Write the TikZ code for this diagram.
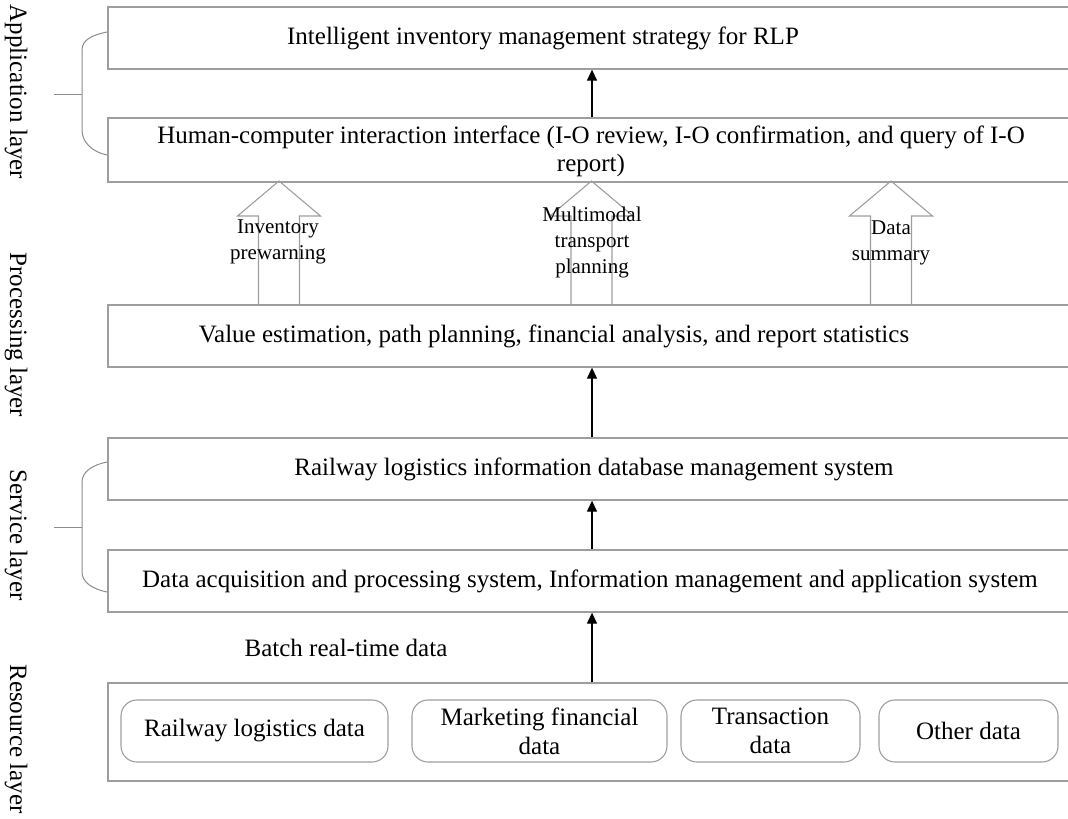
\documentclass[tikz,border=0pt]{standalone}
\usepackage{fontspec}
\setmainfont{Liberation Serif}
\usetikzlibrary{arrows.meta}

\tikzset{
  layerbox/.style={draw=black!38, line width=1.3pt, minimum width=968pt, inner sep=0pt},
  databox/.style={draw=black!38, line width=1.1pt, rounded corners=16pt, minimum height=62pt,
    inner sep=0pt, align=center, font=\fontsize{25}{29}\selectfont},
  boxtext/.style={align=center, inner sep=0pt, font=\fontsize{25}{28}\selectfont},
  sidetext/.style={rotate=-90, inner sep=0pt, font=\fontsize{25}{28}\selectfont},
  flowtext/.style={align=center, inner sep=0pt, font=\fontsize{21}{26}\selectfont},
  flow/.style={draw=black, line width=1.3pt, -{Triangle[length=11pt,width=10pt]}},
  hollow/.style={draw=black!38, line width=1.1pt, line join=miter},
  brace/.style={draw=black!45, line width=1pt}
}

\begin{document}
\begin{tikzpicture}[x=1pt, y=-1pt]
\clip (0,0) rectangle (1068,819);

% layer boxes (open to the right)
\node[layerbox, minimum height=62pt] (strategy) at (592,38) {};
\node[layerbox, minimum height=64pt] (hci) at (592,150) {};
\node[layerbox, minimum height=62pt] (proc) at (592,336) {};
\node[layerbox, minimum height=62pt] (db) at (592,469) {};
\node[layerbox, minimum height=62pt] (acq) at (592,581) {};
\node[layerbox, minimum height=98pt] (res) at (592,732) {};

% box texts
\node[boxtext] (strategy-t) at (543,38) {Intelligent inventory management strategy for RLP};
\node[boxtext] (hci-t) at (591,151) {Human-computer interaction interface (I-O review, I-O confirmation, and query of I-O\\report)};
\node[boxtext] (proc-t) at (554,336) {Value estimation, path planning, financial analysis, and report statistics};
\node[boxtext] (db-t) at (594,469) {Railway logistics information database management system};
\node[boxtext] (acq-t) at (590,581) {Data acquisition and processing system, Information management and application system};

% resource data boxes
\node[databox, minimum width=267pt] (rld) at (254.5,731) {Railway logistics data};
\node[databox, minimum width=255pt] (mfd) at (539.5,731) {Marketing financial\\data};
\node[databox, minimum width=179pt] (trd) at (770.5,731) {Transaction\\data};
\node[databox, minimum width=179pt] (oth) at (968.5,731) {Other data};

\node[boxtext] (batch) at (346,648) {Batch real-time data};

% solid flow arrows
\draw[flow] (hci.north) -- (strategy.south);
\draw[flow] (db.north) -- (proc.south);
\draw[flow] (acq.north) -- (db.south);
\draw[flow] (res.north) -- (acq.south);

% hollow block arrows from the processing box to the interface
\foreach \c in {279,591.5,891}{
  \draw[hollow] (\c-20.5,305) -- (\c-20.5,216) -- (\c-41.5,216) -- (\c,181)
    -- (\c+41.5,216) -- (\c+20.5,216) -- (\c+20.5,305);
}
\node[flowtext] (inv) at (278,242) {Inventory\\prewarning};
\node[flowtext] (mmt) at (592,242) {Multimodal\\transport\\planning};
\node[flowtext] (dsum) at (891,243) {Data\\summary};

% braces grouping the layers
\coordinate (appT) at (107,32);
\coordinate (appB) at (107,155);
\draw[brace] (appT) .. controls (92,35) and (82,40) .. (82,50) -- (82,130)
  .. controls (82,142) and (92,152) .. (appB);
\draw[brace] (54,94) -- (82,94);
\coordinate (svcT) at (107,462);
\coordinate (svcB) at (107,592);
\draw[brace] (svcT) .. controls (92,465) and (82,472) .. (82,482) -- (82,572)
  .. controls (82,582) and (92,589) .. (svcB);
\draw[brace] (54,527) -- (82,527);

% layer names
\node[sidetext] (l-app) at (16,92) {Application layer};
\node[sidetext] (l-proc) at (16,335) {Processing layer};
\node[sidetext] (l-svc) at (16,535) {Service layer};
\node[sidetext] (l-res) at (16,739) {Resource layer};
\end{tikzpicture}
\end{document}
